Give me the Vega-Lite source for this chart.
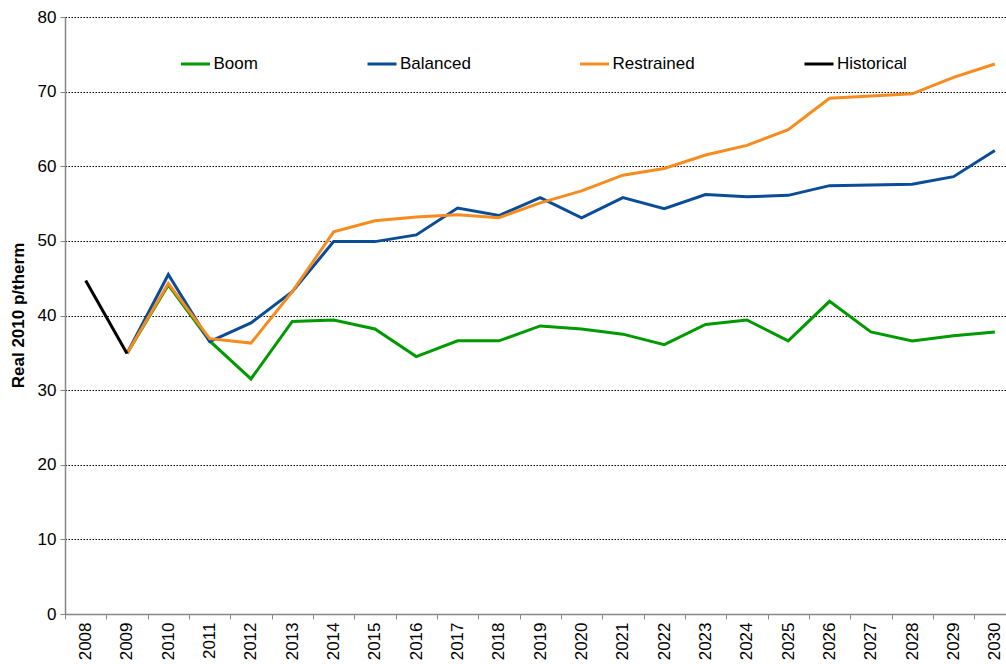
{
  "$schema": "https://vega.github.io/schema/vega-lite/v6.json",
  "width": 941,
  "height": 597,
  "autosize": {"type": "none"},
  "padding": {"left": 65, "top": 17, "right": 0, "bottom": 50},
  "background": "white",
  "config": {"view": {"stroke": null}, "font": "Liberation Sans"},
  "data": {
    "values": [
      {"series": "Boom", "year": 2009, "value": 34.9},
      {"series": "Boom", "year": 2010, "value": 44.1},
      {"series": "Boom", "year": 2011, "value": 36.6},
      {"series": "Boom", "year": 2012, "value": 31.5},
      {"series": "Boom", "year": 2013, "value": 39.2},
      {"series": "Boom", "year": 2014, "value": 39.4},
      {"series": "Boom", "year": 2015, "value": 38.2},
      {"series": "Boom", "year": 2016, "value": 34.5},
      {"series": "Boom", "year": 2017, "value": 36.6},
      {"series": "Boom", "year": 2018, "value": 36.6},
      {"series": "Boom", "year": 2019, "value": 38.6},
      {"series": "Boom", "year": 2020, "value": 38.2},
      {"series": "Boom", "year": 2021, "value": 37.5},
      {"series": "Boom", "year": 2022, "value": 36.1},
      {"series": "Boom", "year": 2023, "value": 38.8},
      {"series": "Boom", "year": 2024, "value": 39.4},
      {"series": "Boom", "year": 2025, "value": 36.6},
      {"series": "Boom", "year": 2026, "value": 41.9},
      {"series": "Boom", "year": 2027, "value": 37.8},
      {"series": "Boom", "year": 2028, "value": 36.6},
      {"series": "Boom", "year": 2029, "value": 37.3},
      {"series": "Boom", "year": 2030, "value": 37.8},
      {"series": "Balanced", "year": 2009, "value": 34.9},
      {"series": "Balanced", "year": 2010, "value": 45.5},
      {"series": "Balanced", "year": 2011, "value": 36.5},
      {"series": "Balanced", "year": 2012, "value": 39.0},
      {"series": "Balanced", "year": 2013, "value": 43.2},
      {"series": "Balanced", "year": 2014, "value": 49.9},
      {"series": "Balanced", "year": 2015, "value": 49.9},
      {"series": "Balanced", "year": 2016, "value": 50.8},
      {"series": "Balanced", "year": 2017, "value": 54.4},
      {"series": "Balanced", "year": 2018, "value": 53.4},
      {"series": "Balanced", "year": 2019, "value": 55.8},
      {"series": "Balanced", "year": 2020, "value": 53.1},
      {"series": "Balanced", "year": 2021, "value": 55.8},
      {"series": "Balanced", "year": 2022, "value": 54.3},
      {"series": "Balanced", "year": 2023, "value": 56.2},
      {"series": "Balanced", "year": 2024, "value": 55.9},
      {"series": "Balanced", "year": 2025, "value": 56.1},
      {"series": "Balanced", "year": 2026, "value": 57.4},
      {"series": "Balanced", "year": 2027, "value": 57.5},
      {"series": "Balanced", "year": 2028, "value": 57.6},
      {"series": "Balanced", "year": 2029, "value": 58.6},
      {"series": "Balanced", "year": 2030, "value": 62.1},
      {"series": "Restrained", "year": 2009, "value": 34.9},
      {"series": "Restrained", "year": 2010, "value": 44.3},
      {"series": "Restrained", "year": 2011, "value": 36.9},
      {"series": "Restrained", "year": 2012, "value": 36.3},
      {"series": "Restrained", "year": 2013, "value": 43.2},
      {"series": "Restrained", "year": 2014, "value": 51.2},
      {"series": "Restrained", "year": 2015, "value": 52.7},
      {"series": "Restrained", "year": 2016, "value": 53.2},
      {"series": "Restrained", "year": 2017, "value": 53.5},
      {"series": "Restrained", "year": 2018, "value": 53.1},
      {"series": "Restrained", "year": 2019, "value": 55.1},
      {"series": "Restrained", "year": 2020, "value": 56.7},
      {"series": "Restrained", "year": 2021, "value": 58.8},
      {"series": "Restrained", "year": 2022, "value": 59.7},
      {"series": "Restrained", "year": 2023, "value": 61.5},
      {"series": "Restrained", "year": 2024, "value": 62.8},
      {"series": "Restrained", "year": 2025, "value": 64.9},
      {"series": "Restrained", "year": 2026, "value": 69.1},
      {"series": "Restrained", "year": 2027, "value": 69.4},
      {"series": "Restrained", "year": 2028, "value": 69.7},
      {"series": "Restrained", "year": 2029, "value": 71.9},
      {"series": "Restrained", "year": 2030, "value": 73.7},
      {"series": "Historical", "year": 2008, "value": 44.7},
      {"series": "Historical", "year": 2009, "value": 34.9}
    ]
  },
  "mark": {"type": "line", "strokeWidth": 3},
  "encoding": {
    "x": {
      "field": "year",
      "type": "quantitative",
      "scale": {"domain": [2007.5, 2030.27], "nice": false, "zero": false},
      "axis": {
        "title": null,
        "values": [2007.5, 2008.5, 2009.5, 2010.5, 2011.5, 2012.5, 2013.5, 2014.5, 2015.5, 2016.5, 2017.5, 2018.5, 2019.5, 2020.5, 2021.5, 2022.5, 2023.5, 2024.5, 2025.5, 2026.5, 2027.5, 2028.5, 2029.5],
        "labelExpr": "datum.value + 0.5",
        "labelOffset": 20.67,
        "labelAngle": -90,
        "labelFontSize": 17,
        "labelColor": "#000000",
        "labelPadding": 3,
        "labelOverlap": false,
        "labelFlush": false,
        "labelBound": false,
        "tickSize": 5,
        "tickColor": "#868686",
        "domainColor": "#868686",
        "domainWidth": 1.5,
        "grid": false
      }
    },
    "y": {
      "field": "value",
      "type": "quantitative",
      "scale": {"domain": [0, 80], "nice": false},
      "axis": {
        "title": "Real 2010 p/therm",
        "values": [0, 10, 20, 30, 40, 50, 60, 70, 80],
        "labelFontSize": 17,
        "labelColor": "#000000",
        "labelPadding": 4,
        "tickSize": 5,
        "tickColor": "#868686",
        "domainColor": "#868686",
        "domainWidth": 1.5,
        "grid": true,
        "gridColor": "#000000",
        "gridDash": [1.5, 1.5],
        "gridWidth": 1,
        "titleFontSize": 17,
        "titleFontWeight": "bold",
        "titleColor": "#000000",
        "titleX": -47,
        "titleY": 298,
        "titleAngle": -90,
        "titleAlign": "center",
        "titleBaseline": "middle"
      }
    },
    "color": {
      "field": "series",
      "type": "nominal",
      "scale": {
        "domain": ["Boom", "Balanced", "Restrained", "Historical"],
        "range": ["#009A00", "#0B4C96", "#F68B1F", "#000000"]
      },
      "legend": {
        "orient": "none",
        "legendX": 114.5,
        "legendY": 31,
        "direction": "horizontal",
        "columns": 4,
        "columnPadding": 102.5,
        "title": null,
        "symbolType": "stroke",
        "symbolSize": 841,
        "symbolStrokeWidth": 3,
        "labelFontSize": 17,
        "labelOffset": 2,
        "labelColor": "#000000",
        "padding": 0
      }
    }
  }
}
